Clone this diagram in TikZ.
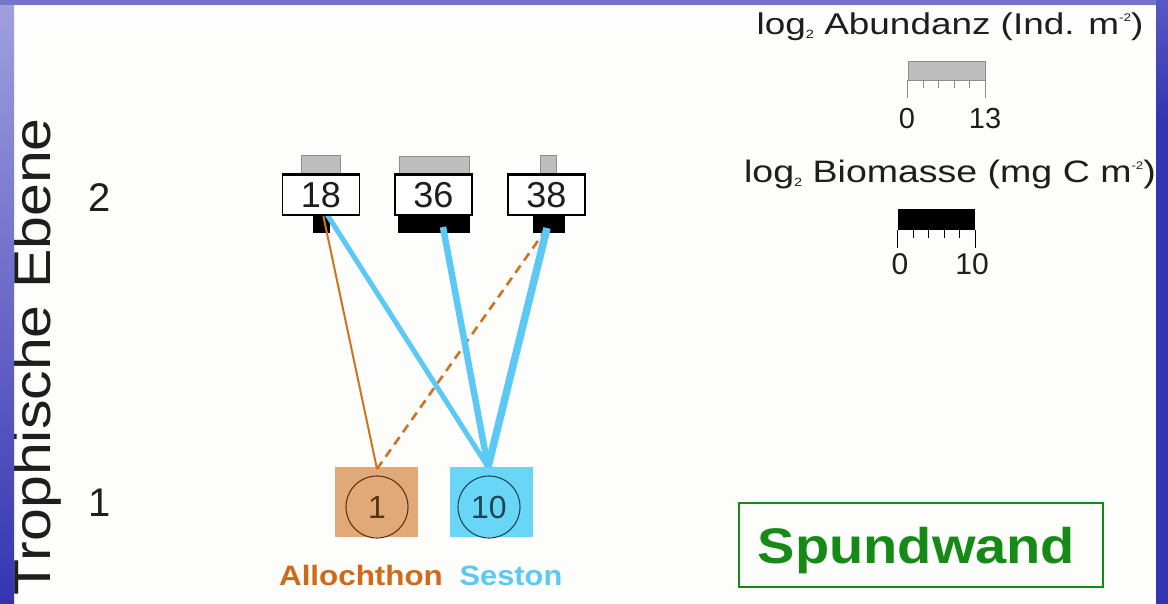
\documentclass[tikz,border=0pt]{standalone}
\usepackage{fontspec}
\setmainfont{Liberation Sans}
\usepackage{graphicx}
\usetikzlibrary{calc}

\definecolor{framedark}{HTML}{3434B2}
\definecolor{framemid}{HTML}{5858C4}
\definecolor{framelight}{HTML}{A0A0E0}
\definecolor{frametop}{HTML}{7474CA}
\definecolor{paper}{HTML}{FDFDFB}
\definecolor{ink}{HTML}{1E1E1E}
\definecolor{seston}{HTML}{5CC9F5}
\definecolor{sestonfill}{HTML}{6AD6F7}
\definecolor{sestonring}{HTML}{1C4756}
\definecolor{alloline}{HTML}{CC7420}
\definecolor{allofill}{HTML}{E2A978}
\definecolor{allotext}{HTML}{D06A18}
\definecolor{allring}{HTML}{5A3414}
\definecolor{abugray}{HTML}{BEBEBE}
\definecolor{abuedge}{HTML}{8C8C8C}
\definecolor{wandgreen}{HTML}{168A16}

\newcommand{\fs}[1]{\fontsize{#1}{#1}\selectfont}
\newcommand{\hs}[2]{\scalebox{#1}[1]{#2}}
\newcommand{\lowtwo}{\raisebox{-4pt}{\fs{12}2}}
\newcommand{\hightwo}{\raisebox{13pt}{\fs{11}-2}}

\begin{document}
\begin{tikzpicture}[x=1pt,y=-1pt,
  txt/.style={inner sep=0pt, text=ink, anchor=base},
  taxon/.style={draw=black, fill=white, line width=1.2pt, minimum width=77pt,
                minimum height=40pt, inner sep=0pt, text=ink, font=\fs{36}},
  abund/.style={fill=abugray, draw=abuedge, line width=0.8pt, inner sep=0pt},
  biom/.style={fill=black, inner sep=0pt, minimum height=18pt},
  source/.style={minimum width=83pt, minimum height=70pt, inner sep=0pt},
  ring/.style={circle, minimum size=62pt, inner sep=0pt, line width=1.1pt, font=\fs{32}},
  sestonfeed/.style={draw=seston},
  allofeed/.style={draw=alloline},
  tickgray/.style={draw=abuedge, line width=0.8pt},
  tickblack/.style={draw=black, line width=1.2pt}
]
\useasboundingbox (0,0) rectangle (1168,604);
\fill[paper] (0,0) rectangle (1168,604);

% ---- axis title and level numbers
\node[txt, rotate=90, anchor=base east] (axis) at (50,118)
  {\fs{52}\hs{1.135}{Trophische Ebene}};
\node[txt] (lev2) at (100,212) {\fs{40}2};
\node[txt] (lev1) at (100,516) {\fs{40}1};

% ---- biomass bars (below) and abundance bars (above) of the consumers
\node[abund, minimum width=39pt, minimum height=18pt] (a18) at (320.5,164) {};
\node[abund, minimum width=70pt, minimum height=17pt] (a36) at (434,164.5) {};
\node[abund, minimum width=16pt, minimum height=18pt] (a38) at (548,164) {};
\node[biom, minimum width=17pt] (b18) at (321.5,224) {};
\node[biom, minimum width=72pt] (b36) at (434,224) {};
\node[biom, minimum width=32pt] (b38) at (549,224) {};

% ---- food sources
\node[source, fill=allofill] (sqA) at (376.5,502) {};
\node[source, fill=sestonfill] (sqS) at (491.5,502) {};

% attachment points of the feeding links
\coordinate (in18) at (321,205);
\coordinate (in36) at (443,227);
\coordinate (in38) at (547,228);
\coordinate (outA) at (377,469);
\coordinate (outS) at (488,467);

% ---- feeding links
\draw[allofeed, line width=2pt] (outA) -- (in18);
\draw[allofeed, line width=2.6pt, dash pattern=on 9pt off 6pt] (outA) -- (in38);
\draw[sestonfeed, line width=5pt] (outS) -- (in18);
\draw[sestonfeed, line width=6.5pt] (outS) -- (in36);
\draw[sestonfeed, line width=7.5pt] (outS) -- (in38);

% ---- consumer boxes
\node[taxon] (s18) at (321,195) {18};
\node[taxon] (s36) at (433.5,195) {36};
\node[taxon] (s38) at (546.5,195) {38};
\draw[line width=3pt] (s18.north west) -- (s18.north east);
\draw[line width=3pt] (s36.north west) -- (s36.north east);
\draw[line width=3pt] (s38.north west) -- (s38.north east);

% ---- source circles and names
\node[ring, draw=allring, text=allring] (cA) at (377,507) {1};
\node[ring, draw=sestonring, text=sestonring] (cS) at (489,507) {10};
\node[txt, text=allotext] (labA) at (361,585) {\fs{28}\bfseries\hs{1.12}{Allochthon}};
\node[txt, text=seston] (labS) at (511,585) {\fs{28}\bfseries\hs{1.1}{Seston}};

% ---- legend: abundance scale
\node[txt] (legA) at (950,35) {\fs{30}\hs{1.23}{log\lowtwo{} Abundanz (Ind. m\hightwo)}};
\node[abund, minimum width=77pt, minimum height=19pt] (scA) at (946.5,70.5) {};
\foreach \i in {1,...,4} \draw[tickgray] ($(scA.south west)!\i/5!(scA.south east)$) -- ++(0,8);
\draw[tickgray] (scA.south west) -- ++(0,18);
\draw[tickgray] (scA.south east) -- ++(0,18);
\node[txt] (scA0) at (907,129) {\fs{29}0};
\node[txt] (scA1) at (985,129) {\fs{29}13};

% ---- legend: biomass scale
\node[txt] (legB) at (950,183) {\fs{31}\hs{1.21}{log\lowtwo{} Biomasse (mg C m\hightwo)}};
\node[biom, minimum width=77pt, minimum height=21pt] (scB) at (936.5,219.5) {};
\foreach \i in {1,...,4} \draw[tickblack] ($(scB.south west)!\i/5!(scB.south east)$) -- ++(0,8);
\draw[tickblack] (scB.south west) -- ++(0,18);
\draw[tickblack] (scB.south east) -- ++(0,18);
\node[txt] (scB0) at (900,275) {\fs{30}0};
\node[txt] (scB1) at (972,275) {\fs{30}10};

% ---- site label
\node[draw=wandgreen, line width=1.5pt, minimum width=364pt, minimum height=84pt,
      inner sep=0pt] (site) at (921,545) {};
\node[txt, text=wandgreen] (sitetext) at (916.5,563) {\fs{50}\bfseries\hs{1.12}{Spundwand}};

% ---- slide frame
\shade[top color=framelight, middle color=framemid, bottom color=framedark]
  (0,0) rectangle (14,604);
\fill[frametop] (0,0) rectangle (1168,5);
\shade[top color=framemid, bottom color=framedark] (1156,0) rectangle (1168,120);
\fill[framedark] (1156,119) rectangle (1168,604);
\end{tikzpicture}
\end{document}
